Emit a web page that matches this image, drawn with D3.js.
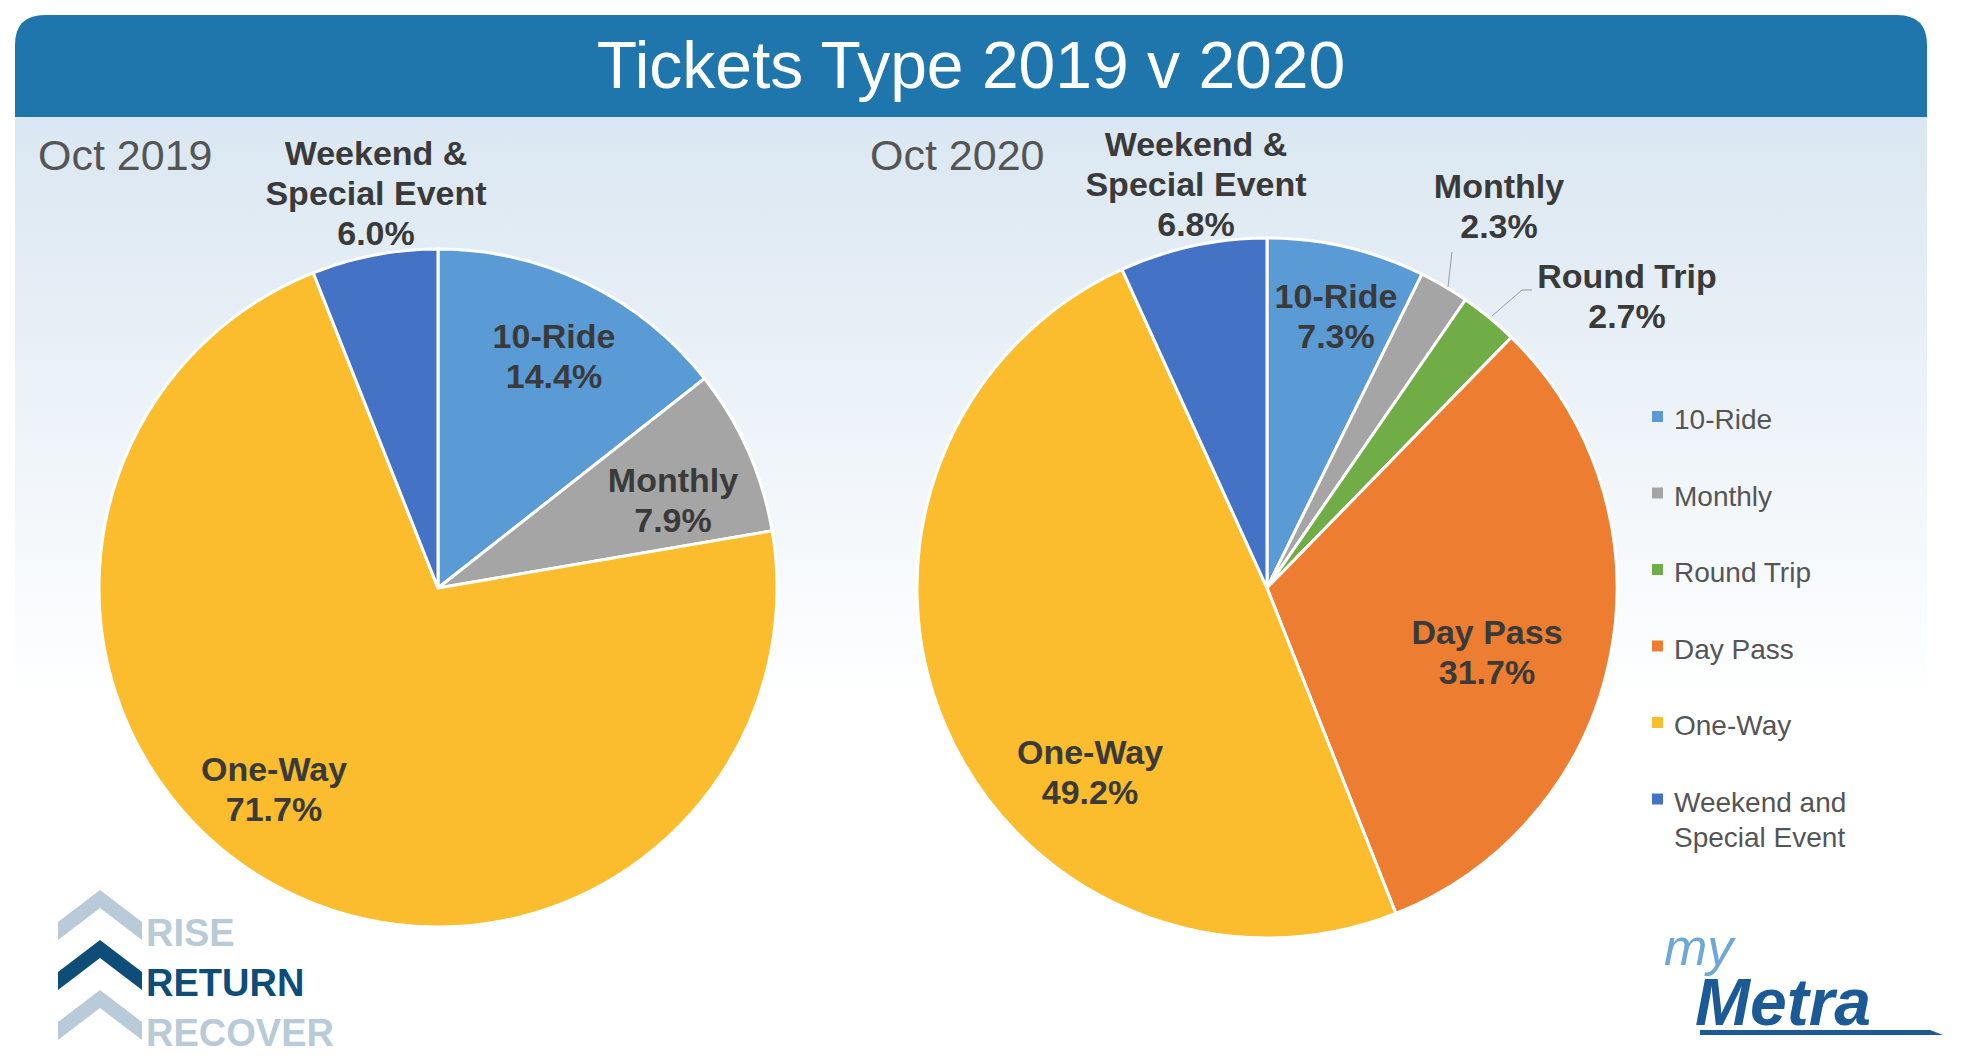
<!DOCTYPE html>
<html lang="en">
<head>
<meta charset="UTF-8">
<script src="https://d3js.org/d3.v7.min.js"></script>
<style>
body{margin:0;background:#fff;}
text{font-family:"Liberation Sans",Arial,sans-serif;}
.lbl{font-weight:bold;font-size:34px;fill:#3a3a3a;}
.leg{font-size:28px;fill:#555;}
</style>
</head>
<body>
<svg class="chart"></svg>
<script>
const cats2019 = ["10-Ride", "Monthly", "One-Way", "Weekend & Special Event"];
const vals2019 = [14.4, 7.9, 71.7, 6.0];
const cats2020 = ["10-Ride", "Monthly", "Round Trip", "Day Pass", "One-Way", "Weekend & Special Event"];
const vals2020 = [7.3, 2.3, 2.7, 31.7, 49.2, 6.8];
const legendLabels = ["10-Ride", "Monthly", "Round Trip", "Day Pass", "One-Way", "Weekend and|Special Event"];

const W = 1981, H = 1063;
const color = d3.scaleOrdinal()
    .domain(["10-Ride", "Monthly", "Round Trip", "Day Pass", "One-Way", "Weekend & Special Event"])
    .range(["#5b9bd5", "#a5a5a5", "#70ad47", "#ed7d31", "#fbbd2e", "#4472c4"]);

let svg = d3.select('.chart').attr('width', W).attr('height', H);
let defs = svg.append('defs');
let grad = defs.append('linearGradient').attr('id', 'bg').attr('x1', 0).attr('x2', 0).attr('y1', 0).attr('y2', 1);
grad.append('stop').attr('offset', '0%').attr('stop-color', '#d9e6f1');
grad.append('stop').attr('offset', '100%').attr('stop-color', '#ffffff');

// panel + title band
svg.append('rect').attr('x', 15).attr('y', 100).attr('width', 1912).attr('height', 600).attr('fill', 'url(#bg)');
svg.append('path')
    .attr('d', 'M15,117 L15,45 Q15,15 45,15 L1897,15 Q1927,15 1927,45 L1927,117 Z')
    .attr('fill', '#1f76ad');
svg.append('text').attr('x', 971).attr('y', 88).attr('text-anchor', 'middle')
    .attr('fill', '#fff').style('font-size', '66px').text('Tickets Type 2019 v 2020');

// pies
let pie = d3.pie().sort(null).value(d => d.v);
let drawPie = (cx, cy, r, cats, vals) => {
    let data = cats.map((c, i) => ({ c: c, v: vals[i] }));
    let arc = d3.arc().innerRadius(0).outerRadius(r);
    svg.append('g').attr('transform', 'translate(' + cx + ',' + cy + ')')
        .selectAll('path').data(pie(data)).enter().append('path')
        .attr('d', arc).attr('fill', d => color(d.data.c))
        .attr('stroke', '#fff').attr('stroke-width', 3);
};
drawPie(438, 588, 339, cats2019, vals2019);
drawPie(1267, 588, 350, cats2020, vals2020);

// headers
svg.append('text').attr('x', 38).attr('y', 170).attr('fill', '#555').style('font-size', '43px').text('Oct 2019');
svg.append('text').attr('x', 870).attr('y', 170).attr('fill', '#555').style('font-size', '43px').text('Oct 2020');

// data labels
let label = (x, y, lines) => {
    let t = svg.append('text').attr('class', 'lbl').attr('text-anchor', 'middle');
    lines.forEach((l, i) => t.append('tspan').attr('x', x).attr('y', y + i * 40).text(l));
};
label(376, 165, ['Weekend &', 'Special Event', vals2019[3].toFixed(1) + '%']);
label(554, 348, ['10-Ride', vals2019[0].toFixed(1) + '%']);
label(673, 492, ['Monthly', vals2019[1].toFixed(1) + '%']);
label(274, 781, ['One-Way', vals2019[2].toFixed(1) + '%']);
label(1196, 156, ['Weekend &', 'Special Event', vals2020[5].toFixed(1) + '%']);
label(1499, 198, ['Monthly', vals2020[1].toFixed(1) + '%']);
label(1627, 288, ['Round Trip', vals2020[2].toFixed(1) + '%']);
label(1336, 308, ['10-Ride', vals2020[0].toFixed(1) + '%']);
label(1487, 644, ['Day Pass', vals2020[3].toFixed(1) + '%']);
label(1090, 764, ['One-Way', vals2020[4].toFixed(1) + '%']);

// leader lines
svg.append('path').attr('d', 'M1448,287 L1452,252').attr('stroke', '#999').attr('fill', 'none');
svg.append('path').attr('d', 'M1492,316 L1522,290 L1532,290').attr('stroke', '#999').attr('fill', 'none');

// legend
let leg = svg.append('g');
legendLabels.forEach((l, i) => {
    let y = 419 + i * 76.5;
    leg.append('rect').attr('x', 1652).attr('y', y - 8).attr('width', 11).attr('height', 11)
        .attr('fill', color(color.domain()[i]));
    let t = leg.append('text').attr('class', 'leg');
    l.split('|').forEach((s, j) => t.append('tspan').attr('x', 1674).attr('y', y + 10 + j * 35).text(s));
});

// Rise Return Recover logo
let chev = (y, c) => svg.append('path')
    .attr('d', `M58,${y + 30} L58,${y + 12} L100,${y - 20} L142,${y + 12} L142,${y + 30} L100,${y - 2} Z`)
    .attr('fill', c);
chev(910, '#b9cbd8');
chev(960, '#0e4d78');
chev(1010, '#b9cbd8');
svg.append('text').attr('x', 146).attr('y', 946).attr('fill', '#b9cbd8').style('font-size', '38px').style('font-weight', 'bold').text('RISE');
svg.append('text').attr('x', 146).attr('y', 996).attr('fill', '#0e4d78').style('font-size', '38px').style('font-weight', 'bold').text('RETURN');
svg.append('text').attr('x', 146).attr('y', 1046).attr('fill', '#b9cbd8').style('font-size', '38px').style('font-weight', 'bold').text('RECOVER');

// myMetra logo
svg.append('text').attr('x', 1664).attr('y', 965).attr('fill', '#6fa8d8').style('font-size', '52px')
    .style('font-style', 'italic').text('my');
svg.append('text').attr('x', 1695).attr('y', 1025).attr('fill', '#1c5a96').style('font-size', '66px')
    .style('font-style', 'italic').style('font-weight', 'bold').text('Metra');
svg.append('path').attr('d', 'M1700,1030 L1930,1030 L1943,1035 L1700,1035 Z').attr('fill', '#1c5a96');
</script>
</body>
</html>
